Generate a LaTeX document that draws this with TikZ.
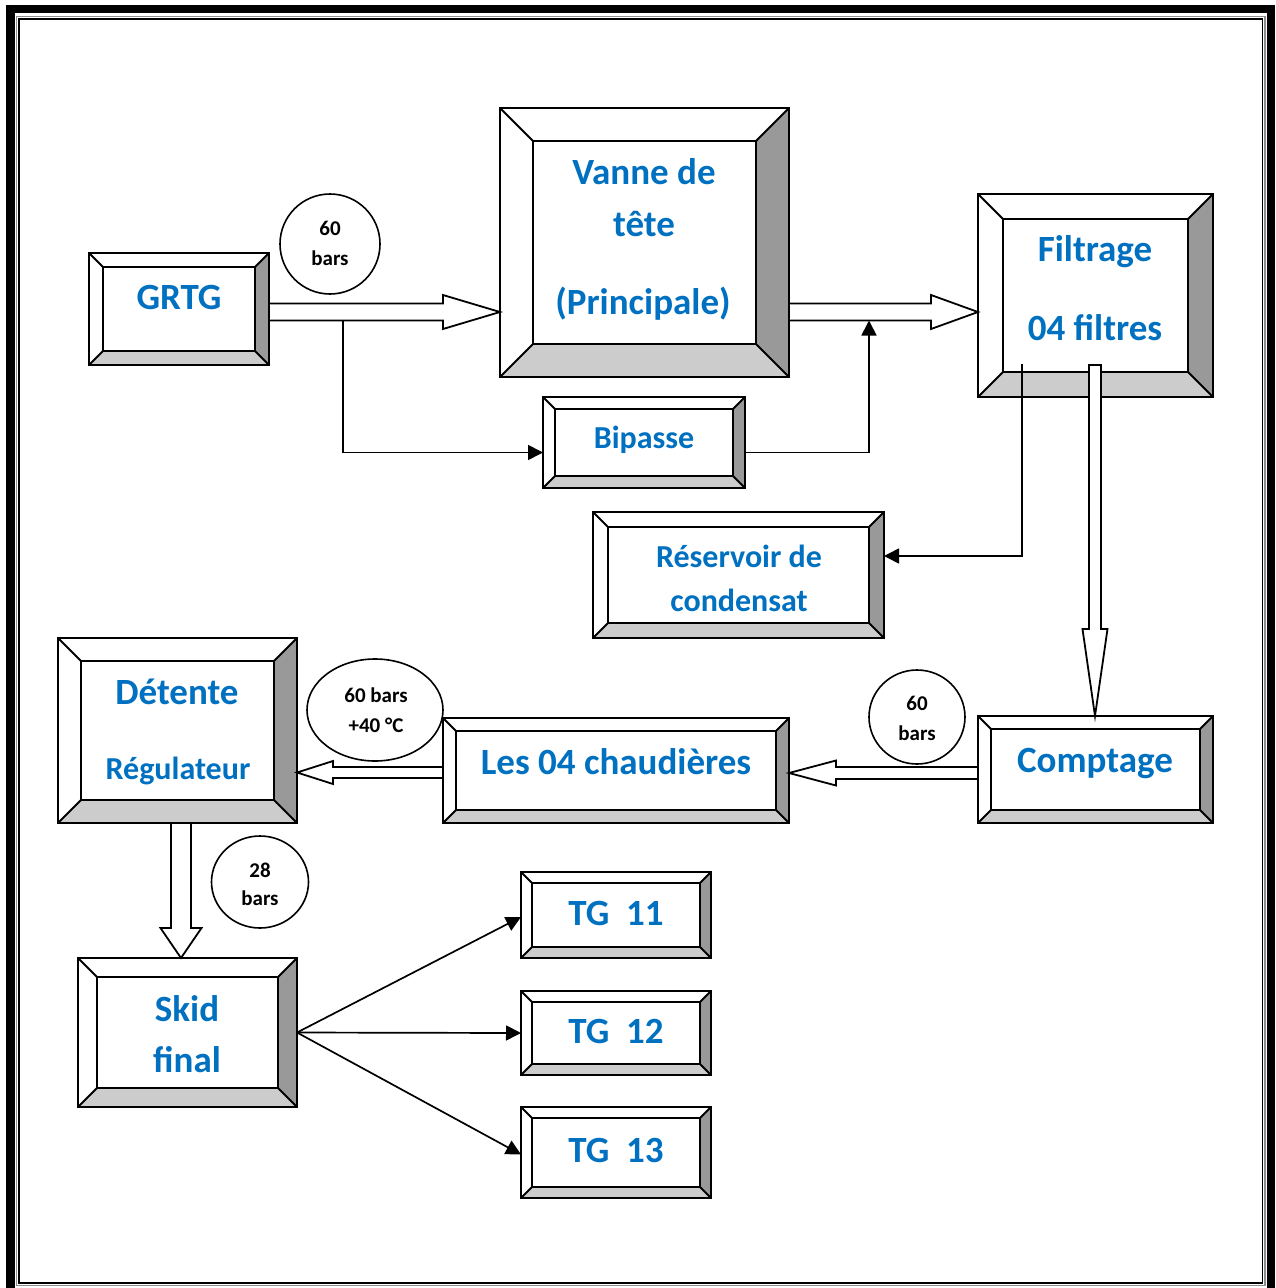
\documentclass[tikz,border=0pt]{standalone}
\usepackage{fontspec}
\setmainfont{Carlito}
\usetikzlibrary{calc,fit,arrows.meta,shapes.geometric}
\definecolor{txtblue}{HTML}{0070C0}
\definecolor{bevdark}{HTML}{999999}
\definecolor{bevlight}{HTML}{CCCCCC}
\tikzset{
  bevline/.style={line width=2pt, line join=miter},
  innerline/.style={line width=2.6pt},
  blockarr/.style={draw=black, fill=white, line width=1.8pt, line join=miter},
  conn/.style={line width=1.7pt, -{Triangle[length=15pt,width=15pt]}},
  bubble/.style={draw=black, line width=1.6pt, ellipse, inner sep=0pt},
  lbl/.style={anchor=base, inner sep=0pt, text=txtblue},
  big/.style={lbl, font={\fontsize{37}{42}\selectfont\bfseries}},
  mid/.style={lbl, font={\fontsize{32}{36}\selectfont\bfseries}},
  small/.style={lbl, font={\fontsize{32}{36}\selectfont\bfseries}},
  btxt/.style={anchor=base, inner sep=0pt, text=black, font={\fontsize{21}{24}\selectfont\bfseries}}
}
% name, x1, y1, x2, y2, bevel
\newcommand\bevelbox[6]{%
  \fill[white] (#2,#3) rectangle (#4,#5);
  \fill[bevdark] (#4,#3) -- (#4,#5) -- ({#4-#6},{#5-#6}) -- ({#4-#6},{#3+#6}) -- cycle;
  \fill[bevlight] (#2,#5) -- (#4,#5) -- ({#4-#6},{#5-#6}) -- ({#2+#6},{#5-#6}) -- cycle;
  \draw[bevline] (#2,#3) -- ({#2+#6},{#3+#6}) (#4,#3) -- ({#4-#6},{#3+#6})
                 (#2,#5) -- ({#2+#6},{#5-#6}) (#4,#5) -- ({#4-#6},{#5-#6});
  \draw[innerline] ({#2+#6},{#3+#6}) rectangle ({#4-#6},{#5-#6});
  \draw[bevline] (#2,#3) rectangle (#4,#5);
  \node[fit={(#2,#3) (#4,#5)}, inner sep=0pt, outer sep=0pt] (#1) {};
}
% block arrows: start, tip, half shaft, half head, head length
\newcommand\blockright[5]{%
  \draw[blockarr] ($(#1)+(0,-#3)$) -- ($(#2)+(-#5,-#3)$) -- ($(#2)+(-#5,-#4)$) -- (#2)
    -- ($(#2)+(-#5,#4)$) -- ($(#2)+(-#5,#3)$) -- ($(#1)+(0,#3)$) -- cycle;}
\newcommand\blockleft[5]{%
  \draw[blockarr] ($(#1)+(0,-#3)$) -- ($(#2)+(#5,-#3)$) -- ($(#2)+(#5,-#4)$) -- (#2)
    -- ($(#2)+(#5,#4)$) -- ($(#2)+(#5,#3)$) -- ($(#1)+(0,#3)$) -- cycle;}
\newcommand\blockdown[5]{%
  \draw[blockarr] ($(#1)+(-#3,0)$) -- ($(#2)+(-#3,-#5)$) -- ($(#2)+(-#4,-#5)$) -- (#2)
    -- ($(#2)+(#4,-#5)$) -- ($(#2)+(#3,-#5)$) -- ($(#1)+(#3,0)$) -- cycle;}

\begin{document}
\begin{tikzpicture}[x=1pt,y=-1pt]
\useasboundingbox (0,0) rectangle (1276,1288);
\clip (0,0) rectangle (1276,1288);
\fill[white] (0,0) rectangle (1276,1288);

% frame
\draw[line width=8.5pt] (10.5,9) rectangle (1271,1300);
\draw[black!45, line width=1.4pt] (16.6,16.6) rectangle (1265,1285.5);
\draw[line width=1.8pt] (19.3,19.3) rectangle (1262.5,1283);

% boxes
\bevelbox{grtg}{89}{253}{269}{365}{14}
\bevelbox{vanne}{500}{108}{789}{377}{33}
\bevelbox{filtrage}{978}{194}{1213}{397}{25}
\bevelbox{bipasse}{543}{397}{745}{488}{12}
\bevelbox{reservoir}{593}{512}{884}{638}{15}
\bevelbox{detente}{58}{638}{297}{823}{23}
\bevelbox{chaud}{443}{718}{789}{823}{13}
\bevelbox{comptage}{978}{716}{1213}{823}{13}
\bevelbox{skid}{78}{958}{297}{1107}{19}
\bevelbox{tg11}{521}{872}{711}{958}{11}
\bevelbox{tg12}{521}{991}{711}{1075}{11}
\bevelbox{tg13}{521}{1107}{711}{1198}{11}

% box labels
\node[big] (t-grtg) at (179,309) {GRTG};
\node[big] (t-v1) at (644,184) {Vanne de};
\node[big] (t-v2) at (644,236) {tête};
\node[big] (t-v3) at (643,314) {(Principale)};
\node[big] (t-f1) at (1095,261) {Filtrage};
\node[big] (t-f2) at (1095,340) {04 filtres};
\node[mid] (t-bip) at (644,448) {Bipasse};
\node[small] (t-r1) at (739,567) {Réservoir de};
\node[small] (t-r2) at (739,611) {condensat};
\node[big] (t-d1) at (177,704) {Détente};
\node[small] (t-d2) at (178,779) {Régulateur};
\node[big] (t-ch) at (616,774) {Les 04 chaudières};
\node[big] (t-co) at (1095,772) {Comptage};
\node[big] (t-s1) at (187,1021) {Skid};
\node[big] (t-s2) at (187,1072) {final};
\node[big] (t-tg11) at (616,925) {TG~~11};
\node[big] (t-tg12) at (616,1043) {TG~~12};
\node[big] (t-tg13) at (616,1162) {TG~~13};

% block arrows
\coordinate (a1s) at ($(grtg.east)+(0,3)$);
\coordinate (a1e) at (vanne.west |- a1s);
\blockright{a1s}{a1e}{8.5}{17}{57}
\coordinate (a2s) at (vanne.east |- a1s);
\coordinate (a2e) at (filtrage.west |- a1s);
\blockright{a2s}{a2e}{8.5}{17}{47}
\coordinate (a3s) at ($(filtrage.south)+(-0.5,-32)$);
\coordinate (a3e) at (a3s |- comptage.north);
\blockdown{a3s}{a3e}{6}{12.5}{87}
\coordinate (a4s) at ($(comptage.west)+(0,3.5)$);
\coordinate (a4e) at (chaud.east |- a4s);
\blockleft{a4s}{a4e}{6}{12.5}{47}
\coordinate (a5s) at ($(chaud.west)+(0,2)$);
\coordinate (a5e) at (detente.east |- a5s);
\blockleft{a5s}{a5e}{5.5}{11.5}{36}
\coordinate (a6s) at ($(detente.south)+(3.5,0)$);
\coordinate (a6e) at (a6s |- skid.north);
\blockdown{a6s}{a6e}{10}{20.5}{30}

% thin connectors
\coordinate (b1) at ($(a1s)+(74,8.5)$);
\coordinate (bipin) at ($(bipasse.west)+(0,10)$);
\draw[conn] (b1) |- (bipin);
\coordinate (bipout) at ($(bipasse.east)+(0,10)$);
\coordinate (b2) at ($(a2s)+(80,8.5)$);
\draw[conn] (bipout) -| (b2);
\coordinate (c1) at ($(filtrage.south west)+(44,-33)$);
\coordinate (resin) at ($(reservoir.east)+(0,-19)$);
\draw[conn] (c1) |- (resin);
\draw[conn] (skid.east) -- ($(tg11.west)+(0,2)$);
\draw[conn] (skid.east) -- (tg12.west);
\draw[conn] (skid.east) -- ($(tg13.west)+(0,2)$);

% pressure bubbles
\node[bubble, minimum width=100pt, minimum height=100pt] (p1) at (330,244) {};
\node[btxt] (p1a) at (330,235.5) {60};
\node[btxt] (p1b) at (330,265) {bars};
\node[bubble, minimum width=136pt, minimum height=102pt] (p2) at (375,710) {};
\node[btxt] (p2a) at (376,702) {60 bars};
\node[btxt] (p2b) at (376,732) {+40 °C};
\node[bubble, minimum width=96pt, minimum height=94pt] (p3) at (917,717) {};
\node[btxt] (p3a) at (917,710) {60};
\node[btxt] (p3b) at (917,740) {bars};
\node[bubble, minimum width=97pt, minimum height=92pt] (p4) at (260,882) {};
\node[btxt] (p4a) at (260,877) {28};
\node[btxt] (p4b) at (260,905) {bars};
\end{tikzpicture}
\end{document}
